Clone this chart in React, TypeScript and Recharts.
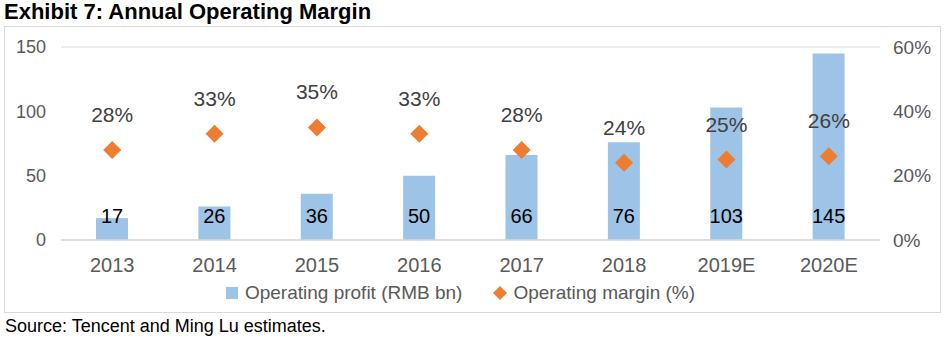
import React from "react";
import {
  ComposedChart,
  Bar,
  Line,
  XAxis,
  YAxis,
  CartesianGrid,
  Legend,
  LabelList,
} from "recharts";

const years = ["2013", "2014", "2015", "2016", "2017", "2018", "2019E", "2020E"];
const operatingProfit = [17, 26, 36, 50, 66, 76, 103, 145];
const operatingMargin = [28, 33, 35, 33, 28, 24, 25, 26];
const leftTicks = [0, 50, 100, 150];
const rightTicks = [0, 20, 40, 60];
const legendOrder = ["profit", "margin"];

const data = years.map((y, i) => ({
  year: y,
  profit: operatingProfit[i],
  margin: operatingMargin[i],
}));

const BLUE = "#9DC3E6";
const ORANGE = "#ED7D31";
const GRID = "#D9D9D9";
const FONT = '"Liberation Sans", Arial, sans-serif';

const renderDiamond = (p: any) => {
  const { cx, cy, index } = p;
  const r = 9;
  return (
    <polygon
      key={`dm-${index}`}
      points={`${cx},${cy - r} ${cx + r},${cy} ${cx},${cy + r} ${cx - r},${cy}`}
      fill={ORANGE}
    />
  );
};

const renderLegend = (props: any) => {
  // keep Excel's order: bars first, then the diamonds
  const items = [...(props.payload || [])].sort(
    (a: any, b: any) => legendOrder.indexOf(a.dataKey) - legendOrder.indexOf(b.dataKey)
  );
  return (
    <div
      style={{
        display: "flex",
        justifyContent: "center",
        alignItems: "center",
        height: 24,
        paddingRight: 24,
        fontSize: 19,
        color: "#595959",
        fontFamily: FONT,
      }}
    >
      {items.map((it: any, i: number) => (
        <React.Fragment key={it.value}>
          {it.dataKey === "profit" ? (
            <span style={{ width: 12, height: 12, background: BLUE, marginRight: 7, marginLeft: i ? 31 : 0 }} />
          ) : (
            <svg width={14} height={14} style={{ marginRight: 6, marginLeft: i ? 31 : 0 }}>
              <polygon points="7,0 14,7 7,14 0,7" fill={ORANGE} />
            </svg>
          )}
          <span>{it.value}</span>
        </React.Fragment>
      ))}
    </div>
  );
};

export default function App() {
  return (
    <div style={{ position: "absolute", left: 0, top: 0, width: 949, height: 344, background: "#fff", fontFamily: FONT }}>
      <div style={{ position: "absolute", left: 4, top: 1, fontSize: 22, lineHeight: "22px", fontWeight: "bold", color: "#000" }}>
        Exhibit 7: Annual Operating Margin
      </div>
      <div style={{ position: "absolute", left: 4, top: 26, width: 935, height: 285, border: `1px solid ${GRID}` }}>
        <ComposedChart
          width={935}
          height={285}
          data={data}
          margin={{ top: 20, right: 0, left: 0, bottom: 7 }}
          style={{ fontFamily: FONT }}
        >
          <CartesianGrid vertical={false} stroke={GRID} />
          <XAxis
            dataKey="year"
            height={41}
            tickLine={false}
            tickSize={0}
            tickMargin={18}
            axisLine={{ stroke: GRID, strokeWidth: 1.5 }}
            tick={{ fontSize: 20, fill: "#595959" }}
          />
          <YAxis
            yAxisId="left"
            orientation="left"
            width={56}
            domain={[0, 150]}
            ticks={leftTicks}
            axisLine={false}
            tickLine={false}
            tickSize={0}
            tickMargin={15}
            tick={{ fontSize: 18, fill: "#595959" }}
          />
          <YAxis
            yAxisId="right"
            orientation="right"
            width={60}
            domain={[0, 60]}
            ticks={rightTicks}
            axisLine={false}
            tickLine={false}
            tickSize={0}
            tickMargin={13}
            tickFormatter={(v: number) => `${v}%`}
            tick={{ fontSize: 19, fill: "#595959" }}
          />
          <Legend verticalAlign="bottom" content={renderLegend} />
          <Bar
            yAxisId="left"
            dataKey="profit"
            name="Operating profit (RMB bn)"
            fill={BLUE}
            barSize={32}
            isAnimationActive={false}
          >
            <LabelList dataKey="profit" position="insideBottom" offset={17} fontSize={20} fill="#000" />
          </Bar>
          <Line
            yAxisId="right"
            dataKey="margin"
            name="Operating margin (%)"
            stroke="none"
            dot={renderDiamond}
            activeDot={false}
            isAnimationActive={false}
          >
            <LabelList
              dataKey="margin"
              position="top"
              offset={28}
              fontSize={21}
              fill="#404040"
              formatter={(v: any) => `${v}%`}
            />
          </Line>
        </ComposedChart>
      </div>
      <div style={{ position: "absolute", left: 5, top: 317, fontSize: 18, lineHeight: "18px", color: "#000" }}>
        Source: Tencent and Ming Lu estimates.
      </div>
    </div>
  );
}
